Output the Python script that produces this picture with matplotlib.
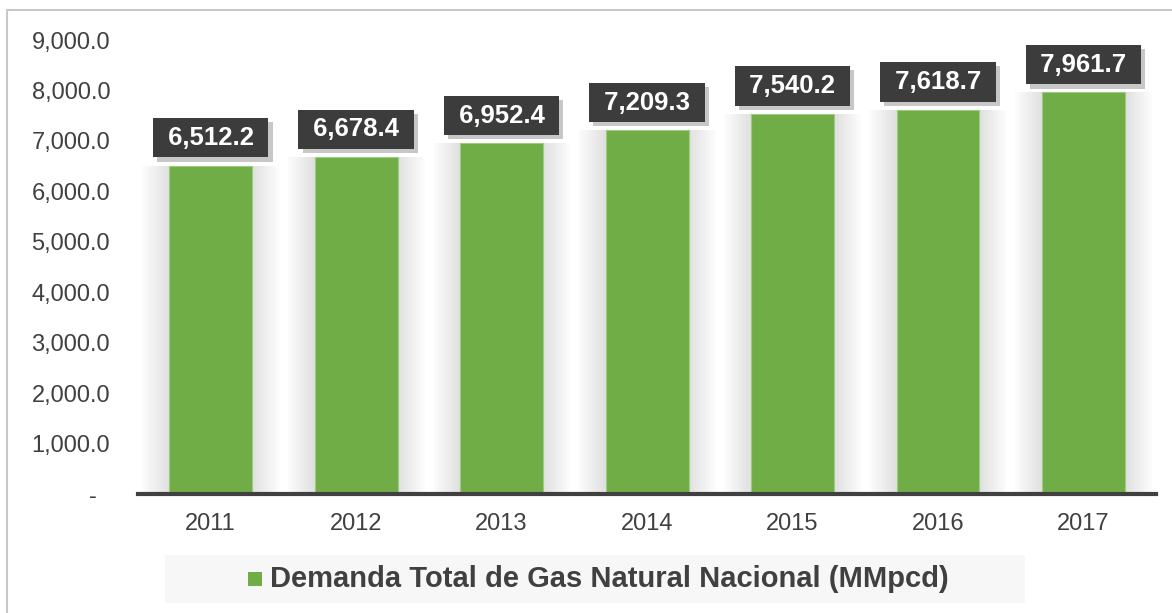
import matplotlib.pyplot as plt
import matplotlib.ticker as mticker
import matplotlib.patheffects as pe
from matplotlib.patches import Rectangle

years = ['2011', '2012', '2013', '2014', '2015', '2016', '2017']
demanda = [6512.2, 6678.4, 6952.4, 7209.3, 7540.2, 7618.7, 7961.7]
serie = 'Demanda Total de Gas Natural Nacional (MMpcd)'

plt.rcParams['font.family'] = ['Liberation Sans', 'DejaVu Sans']
gris = '#404040'
verde = '#70ad47'

fig = plt.figure(figsize=(11.72, 6.13), dpi=100)
ax = fig.add_axes([0.1177, 0.1941, 0.8688, 0.7406])

x = range(len(years))

# soft glow behind the bars
for k in range(10):
    ax.bar(x, demanda, width=0.60 + k * 0.038, color='#b0b0b0', alpha=0.04,
           lw=0, zorder=1)
ax.bar(x, demanda, width=0.57, color=verde, ec='#9ccc80', lw=0.8, zorder=2)

for i, v in enumerate(demanda):
    ann = ax.annotate(f' {v:,.1f} ', (i, v), xytext=(0, 20),
                      textcoords='offset points', ha='center', va='center',
                      color='white', fontsize=18.5, fontweight='bold', zorder=5,
                      bbox=dict(boxstyle='square,pad=0.3', fc='#3c3c3c',
                                ec='none'))
    ann.get_bbox_patch().set_path_effects([
        pe.SimplePatchShadow(offset=(3, -3), shadow_rgbFace='#000000', alpha=0.22),
        pe.Normal()])

ax.set_xlim(-0.5, len(years) - 0.5)
ax.set_ylim(0, 9000)
ax.set_xticks(list(x))
ax.set_xticklabels(years)
ax.yaxis.set_major_locator(mticker.MultipleLocator(1000))
ax.yaxis.set_major_formatter(mticker.FuncFormatter(
    lambda v, p: '-  ' if v == 0 else f'{v:,.1f}'))
ax.tick_params(length=0, labelsize=17, labelcolor=gris)
ax.tick_params(axis='x', pad=14)
ax.tick_params(axis='y', pad=20)
for s in ['top', 'right', 'left']:
    ax.spines[s].set_visible(False)
ax.spines['bottom'].set_color(gris)
ax.spines['bottom'].set_linewidth(3)
ax.spines['bottom'].set_zorder(6)

# frame around the chart
fig.patches.append(Rectangle((7 / 1172, -0.01), 1.0, (613 - 10) / 613 + 0.01,
                             transform=fig.transFigure, fill=False,
                             ec='#c8c8c8', lw=1.5))

# legend strip
fig.patches.append(Rectangle((165 / 1172, 10 / 613), 860 / 1172, 48 / 613,
                             transform=fig.transFigure, fc='#f7f7f7', ec='none'))
fig.patches.append(Rectangle((248 / 1172, 27 / 613), 14 / 1172, 14 / 613,
                             transform=fig.transFigure, fc=verde, ec='none'))
fig.text(270 / 1172, 34 / 613, serie, ha='left', va='center', fontsize=21,
         fontweight='bold', color=gris)

fig.savefig('out.png', dpi=100)
